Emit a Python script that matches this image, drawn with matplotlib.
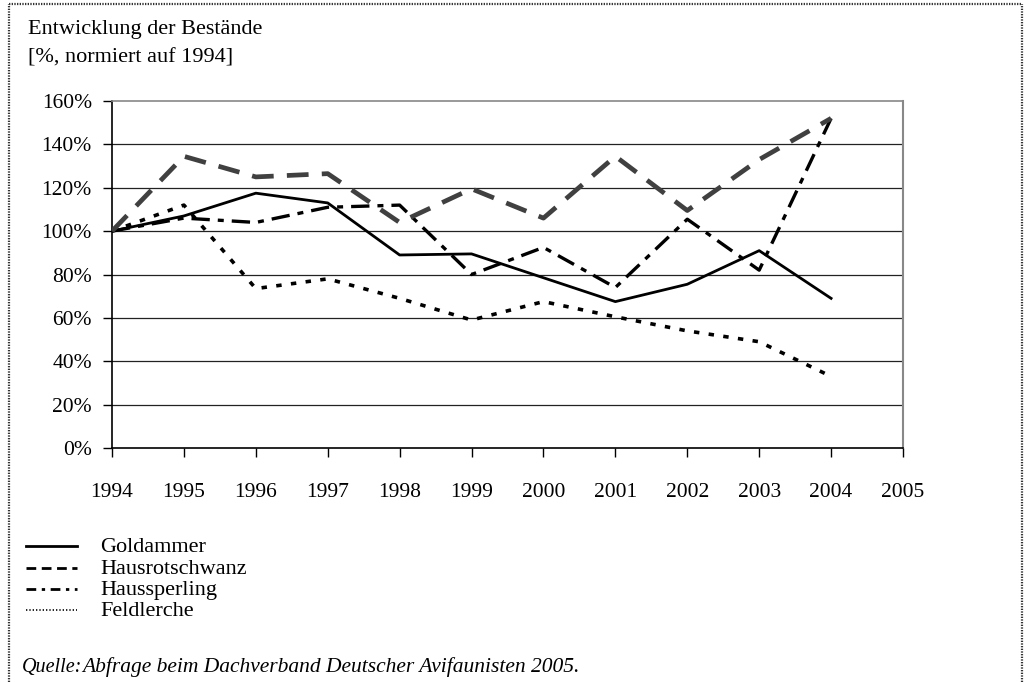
import matplotlib
matplotlib.use("Agg")
import matplotlib.pyplot as plt
from matplotlib.lines import Line2D
from matplotlib.ticker import FuncFormatter

# ---------------------------------------------------------
# Daten
# ---------------------------------------------------------
years = list(range(1994, 2005))
goldammer = [100, 107, 117.5, 113, 89, 89.5, 78.5, 67.5, 75.5, 91, 69]
hausrotschwanz = [100, 134.5, 125, 126.5, 104, 119.5, 106, 134.5, 109.5, 133, 152]
haussperling = [100, 106, 104, 111, 112, 80, 92.5, 74, 105.5, 82, 152]
feldlerche = [100, 112, 73.5, 78, 69, 59, 67.5, 60.5, 54, 49, 33]

labels = ["Goldammer", "Hausrotschwanz", "Haussperling", "Feldlerche"]
x_ticks = list(range(1994, 2006))
y_ticks = list(range(0, 161, 20))

title_1 = "Entwicklung der Bestände"
title_2 = "[%, normiert auf 1994]"
source_1 = "Quelle:"
source_2 = "Abfrage beim Dachverband Deutscher Avifaunisten 2005."

plt.rcParams["font.family"] = ["Liberation Serif", "DejaVu Serif"]
FS = 16
FS_TICK = 15.5

W, H = 1027, 682
fig = plt.figure(figsize=(W / 100, H / 100), dpi=100)
ax = fig.add_axes([112 / W, 1 - 448 / H, (903 - 112) / W, (448 - 101) / H])

# ---------------------------------------------------------
# Linien
# ---------------------------------------------------------
ax.plot(years, feldlerche, color="black", lw=2.6, dashes=(1.5, 2.6),
        solid_capstyle="butt", dash_capstyle="butt", zorder=3)
ax.plot(years, haussperling, color="black", lw=2.4, dashes=(5.5, 2.4, 1.8, 2.4),
        dash_capstyle="butt", zorder=4)
ax.plot(years, goldammer, color="black", lw=2.0, zorder=5)
ax.plot(years, hausrotschwanz, color="#404040", lw=3.4, dashes=(4.6, 2.8),
        dash_capstyle="butt", zorder=6)

ax.set_xlim(1994, 2005)
ax.set_ylim(0, 160)
ax.set_xticks(x_ticks)
ax.set_yticks(y_ticks)
ax.yaxis.set_major_formatter(FuncFormatter(lambda v, p: f"{int(v)}%"))

for y in y_ticks[1:-1]:
    ax.axhline(y, color="#222222", lw=0.9, zorder=1)

ax.spines["left"].set_color("black")
ax.spines["bottom"].set_color("black")
ax.spines["left"].set_linewidth(1.2)
ax.spines["bottom"].set_linewidth(1.2)
ax.spines["top"].set_color("#888888")
ax.spines["right"].set_color("#888888")
ax.spines["top"].set_linewidth(1.2)
ax.spines["right"].set_linewidth(1.5)

ax.tick_params(axis="y", length=6.5, width=1, pad=8, labelsize=FS_TICK)
ax.tick_params(axis="x", length=6.5, width=1, pad=19, labelsize=FS_TICK)
for t in ax.get_xticklines()[-2:]:
    t.set_color("#888888")

# ---------------------------------------------------------
# Titel, Legende, Quelle
# ---------------------------------------------------------
def fy(py):
    return 1 - py / H

fig.text(28 / W, fy(34), title_1, fontsize=FS, va="baseline")
fig.text(28 / W, fy(62), title_2, fontsize=FS, va="baseline")

legend_styles = [
    dict(color="black", lw=2.0),
    dict(color="black", lw=2.0, dashes=(3.5, 2.0)),
    dict(color="black", lw=2.0, dashes=(3.5, 2.0, 1.2, 2.0)),
    dict(color="black", lw=1.2, dashes=(0.8, 1.2)),
]
legend_y = [546, 568, 589, 610]
for lab, st, py in zip(labels, legend_styles, legend_y):
    fig.add_artist(Line2D([26 / W, 77 / W], [fy(py), fy(py)], **st))
    fig.text(100 / W, fy(py + 1), lab, fontsize=FS, va="center")

fig.text(22 / W, fy(672), source_1, fontsize=14.5, style="italic", va="baseline")
fig.text(82 / W, fy(672), source_2, fontsize=15.5, style="italic", va="baseline")

# gepunkteter Rahmen
frame = dict(color="#333333", lw=1.6, ls=(0, (0.6, 0.6)))
fig.add_artist(Line2D([9 / W, 9 / W], [0, fy(4)], **frame))
fig.add_artist(Line2D([9 / W, 1022 / W], [fy(4), fy(4)], **frame))
fig.add_artist(Line2D([1022 / W, 1022 / W], [0, fy(4)], **frame))

fig.savefig("out.png", dpi=100)
